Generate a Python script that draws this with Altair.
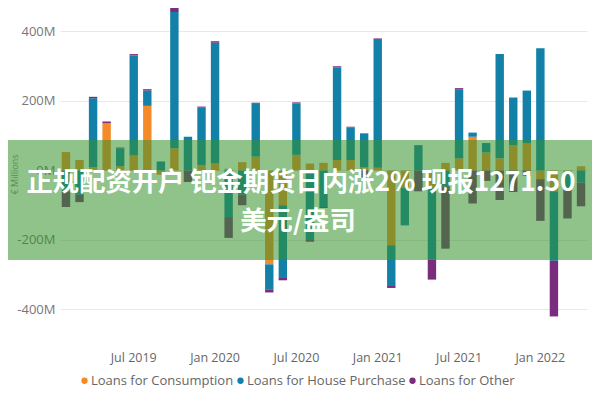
import altair as alt
import pandas as pd

months = [
    "2019-02", "2019-03", "2019-04", "2019-05", "2019-06", "2019-07", "2019-08", "2019-09",
    "2019-10", "2019-11", "2019-12", "2020-01", "2020-02", "2020-03", "2020-04", "2020-05",
    "2020-06", "2020-07", "2020-08", "2020-09", "2020-10", "2020-11", "2020-12", "2021-01",
    "2021-02", "2021-03", "2021-04", "2021-05", "2021-06", "2021-07", "2021-08", "2021-09",
    "2021-10", "2021-11", "2021-12", "2022-01", "2022-02", "2022-03", "2022-04",
]
consumption = [53, 30, 10, 136, 12, 43, 186, -12, 64, 0, 15, 20, 5, 24, 40, -270,
               -100, 45, 20, 22, 30, 30, 10, 8, -215, -50, 0, -50, 22, 35, 97, 52,
               35, 73, 78, -25, -60, -10, 12]
house = [-60, -70, 198, 0, 52, 288, 44, 25, 392, 97, 166, 348, -134, -70, 152, -72,
         -207, 148, -200, -105, 266, 94, 97, 368, -115, -108, 73, -207, -45, 199, 12, 27,
         300, 137, 152, 352, -200, -40, -35]
other = [-45, -21, 4, 5, 2, 4, 4, 1, 14, -33, 3, 4, -60, -30, 3, -9,
         -9, 3, -5, -3, 4, 2, -20, 4, -8, 0, -60, -57, -180, 3, -95, -30,
         -85, -62, -15, -120, -160, -88, -68]

series_names = ["Loans for Consumption", "Loans for House Purchase", "Loans for Other"]
series_colors = ["#F58A2A", "#1380A8", "#7A2D7C"]
tick_months = ["2019-07", "2020-01", "2020-07", "2021-01", "2021-07", "2022-01"]
y_ticks = [-400, -200, 0, 200, 400]

title_line1 = "正规配资开户 钯金期货日内涨2% 现报1271.50"
title_line2 = "美元/盎司"

rows = []
for i, m in enumerate(months):
    for k, (name, vals) in enumerate(zip(series_names, [consumption, house, other])):
        rows.append({"month": m, "series": name, "value": vals[i], "order": k})
df = pd.DataFrame(rows)

FONT = "Open Sans"
PW, PH = 527, 332
PL, PR, PT, PB = 52, 5, 0, 52

bars = alt.Chart(df).mark_bar().encode(
    x=alt.X("month:N", sort=months,
            scale=alt.Scale(paddingInner=0.38, paddingOuter=0.13),
            axis=alt.Axis(title=None, values=tick_months, labelAngle=0,
                          labelExpr="(substring(datum.value,5,7)=='01' ? 'Jan ' : 'Jul ') + substring(datum.value,0,4)",
                          ticks=False, domain=False, labelPadding=11,
                          labelFontSize=12.5, labelColor="#666666", labelFont=FONT)),
    y=alt.Y("value:Q", stack="zero",
            scale=alt.Scale(domain=[-487.8, 467.6], nice=False, zero=False),
            axis=alt.Axis(title="€ Millions", values=y_ticks, labelExpr="datum.value + 'M'",
                          ticks=False, domain=False, labelPadding=5,
                          labelFontSize=13, labelColor="#777777", labelFont=FONT,
                          gridColor="#E8E8E8", titleFontSize=9, titleColor="#888888",
                          titleFont=FONT, titleFontWeight="normal", titleBaseline="top",
                          titleX=-50, titleY=166)),
    color=alt.Color("series:N", scale=alt.Scale(domain=series_names, range=series_colors),
                    legend=alt.Legend(title=None, orient="none", direction="horizontal",
                                      legendX=18, legendY=366, symbolType="circle",
                                      symbolSize=40, labelFontSize=13, labelColor="#666666",
                                      labelFont=FONT, columnPadding=0, labelOffset=0,
                                      padding=0)),
    order=alt.Order("order:Q", sort="ascending"),
)

one = pd.DataFrame({"a": [0]})

banner = alt.Chart(one).mark_rect(color="#33922A", opacity=0.55).encode(
    x=alt.value(-PL), x2=alt.value(PW + PR), y=alt.value(132), y2=alt.value(252)
)

text1 = alt.Chart(one).mark_text(
    font="Noto Sans CJK SC", fontSize=26.3, fontWeight="bold", color="white",
    align="center", baseline="middle"
).encode(x=alt.value(241), y=alt.value(175), text=alt.value(title_line1))

text2 = alt.Chart(one).mark_text(
    font="Noto Sans CJK SC", fontSize=26.3, fontWeight="bold", color="white",
    align="center", baseline="middle"
).encode(x=alt.value(238), y=alt.value(214), text=alt.value(title_line2))

chart = alt.layer(bars, banner, text1, text2).properties(
    width=PW, height=PH,
    padding={"left": PL, "right": PR, "top": PT, "bottom": PB},
    autosize="none",
).configure(font=FONT).configure_view(stroke=None)

chart.save("out.html", embed_options={"renderer": "svg", "actions": False})
